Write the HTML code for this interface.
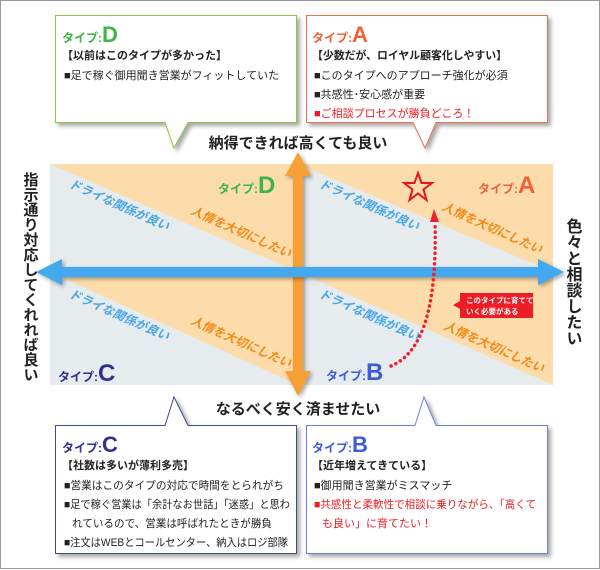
<!DOCTYPE html>
<html><head><meta charset="utf-8"><style>
html,body{margin:0;padding:0;background:#fff}
svg{display:block}
text{font-family:"Liberation Sans","Noto Sans CJK JP",sans-serif}
</style></head><body>
<svg width="600" height="570" viewBox="0 0 600 570" xmlns="http://www.w3.org/2000/svg">
<defs>
<filter id="sh" x="-10%" y="-10%" width="130%" height="130%"><feDropShadow dx="3" dy="3" stdDeviation="2" flood-color="#000" flood-opacity="0.35"/></filter>
<filter id="sh2" x="-10%" y="-30%" width="120%" height="160%"><feDropShadow dx="2" dy="2" stdDeviation="2" flood-color="#000" flood-opacity="0.35"/></filter>
</defs>
<rect x="0.5" y="0.5" width="599" height="568" fill="#fff" stroke="#999"/>

<rect x="50" y="164" width="503" height="221" fill="#e6ebee"/>
<polygon points="50,164 298,164 298,272" fill="#fcdcaa"/>
<polygon points="298,164 553,164 553,272" fill="#fcdcaa"/>
<polygon points="50,272 298,272 298,385" fill="#fcdcaa"/>
<polygon points="298,272 553,272 553,385" fill="#fcdcaa"/>

<g font-size="12" font-weight="bold" font-style="italic">
<text x="119" y="209" fill="#45a6e8" text-anchor="middle" transform="rotate(24 119 205)">ドライな関係が良い</text>
<text x="241" y="236" fill="#f08a1a" text-anchor="middle" transform="rotate(24 241 232)">人情を大切にしたい</text>
<text x="369" y="209" fill="#45a6e8" text-anchor="middle" transform="rotate(24 369 205)">ドライな関係が良い</text>
<text x="492" y="232" fill="#f08a1a" text-anchor="middle" transform="rotate(24 492 228)">人情を大切にしたい</text>
<text x="119" y="319" fill="#45a6e8" text-anchor="middle" transform="rotate(24 119 315)">ドライな関係が良い</text>
<text x="241" y="346" fill="#f08a1a" text-anchor="middle" transform="rotate(24 241 342)">人情を大切にしたい</text>
<text x="369" y="319" fill="#45a6e8" text-anchor="middle" transform="rotate(24 369 315)">ドライな関係が良い</text>
<text x="494" y="351" fill="#f08a1a" text-anchor="middle" transform="rotate(24 494 347)">人情を大切にしたい</text>
</g>

<text x="218" y="193" fill="#3cb54a" font-weight="bold"><tspan font-size="12">タイプ:</tspan><tspan font-size="24">D</tspan></text>
<text x="478" y="193" fill="#f0603a" font-weight="bold"><tspan font-size="12">タイプ:</tspan><tspan font-size="24">A</tspan></text>
<text x="58" y="381" fill="#2e3192" font-weight="bold"><tspan font-size="12">タイプ:</tspan><tspan font-size="24">C</tspan></text>
<text x="326" y="380" fill="#3d5bd9" font-weight="bold"><tspan font-size="12">タイプ:</tspan><tspan font-size="24">B</tspan></text>

<g filter="url(#sh2)">
<polygon points="298,152 311,176 303,176 303,371 311,371 298,396 285,371 293,371 293,176 285,176" fill="#f7a035"/>
</g>
<g filter="url(#sh2)">
<polygon points="36,272 62,259 62,267 538,267 538,259 564,272 538,285 538,277 62,277 62,285" fill="#42a8f0"/>
</g>

<polygon points="418,173 421.5,183 432,183 423.5,189.5 426.5,200 418,193.5 409.5,200 412.5,189.5 404,183 414.5,183" fill="none" stroke="#e8141c" stroke-width="2"/>

<path d="M391,366 C425,352 437,300 435,222" fill="none" stroke="#ee2030" stroke-width="3.5" stroke-dasharray="0.1 5.2" stroke-linecap="round"/>
<polygon points="430,222 439,222 434,209" fill="#ee2030"/>
<polygon points="460,293 533,293 533,318 460,318 460,309 453,305 460,301" fill="#ee1c24"/>
<text x="466" y="303" font-size="7.5" font-weight="bold" fill="#fff">このタイプに育てて</text>
<text x="466" y="314" font-size="7.5" font-weight="bold" fill="#fff">いく必要がある</text>

<text x="298" y="148" font-size="15" font-weight="bold" fill="#222" text-anchor="middle">納得できれば高くても良い</text>
<text x="298" y="414" font-size="15" font-weight="bold" fill="#222" text-anchor="middle">なるべく安く済ませたい</text>
<text x="30" y="172" font-size="15" font-weight="bold" fill="#222" style="writing-mode:vertical-rl" text-anchor="start">指示通り対応してくれれば良い</text>
<text x="572" y="218" font-size="16" font-weight="bold" fill="#222" style="writing-mode:vertical-rl" text-anchor="start">色々と相談したい</text>

<path d="M55.5,15.5 H296.5 V122.5 H188 L174,148 L165,122.5 H55.5 Z" fill="#fff" stroke="#8dc63f" filter="url(#sh)"/>
<text x="62" y="42" fill="#3cb54a" font-weight="bold"><tspan font-size="12">タイプ:</tspan><tspan font-size="22">D</tspan></text>
<text x="62" y="59" font-size="11" font-weight="bold" fill="#222">【以前はこのタイプが多かった】</text>
<text x="64" y="79" font-size="11" fill="#222">■足で稼ぐ御用聞き営業がフィットしていた</text>

<path d="M306.5,15.5 H547.5 V122.5 H436 L425,148 L413,122.5 H306.5 Z" fill="#fff" stroke="#f07050" filter="url(#sh)"/>
<text x="312" y="42" fill="#f0603a" font-weight="bold"><tspan font-size="12">タイプ:</tspan><tspan font-size="22">A</tspan></text>
<text x="312" y="59" font-size="11" font-weight="bold" fill="#222" textLength="195" lengthAdjust="spacingAndGlyphs">【少数だが、ロイヤル顧客化しやすい】</text>
<text x="314" y="79" font-size="11" fill="#222">■このタイプへのアプローチ強化が必須</text>
<text x="314" y="98" font-size="11" fill="#222">■共感性･安心感が重要</text>
<text x="314" y="117" font-size="11" fill="#ee1c24">■ご相談プロセスが勝負どころ！</text>

<path d="M55.5,425.5 H165 L174,397 L188,425.5 H296.5 V553.5 H55.5 Z" fill="#fff" stroke="#3d4b8f" filter="url(#sh)"/>
<text x="62" y="452" fill="#2e3192" font-weight="bold"><tspan font-size="12">タイプ:</tspan><tspan font-size="22">C</tspan></text>
<text x="62" y="469" font-size="11" font-weight="bold" fill="#222">【社数は多いが薄利多売】</text>
<text x="64" y="489" font-size="11" fill="#222" textLength="220" lengthAdjust="spacingAndGlyphs">■営業はこのタイプの対応で時間をとられがち</text>
<text x="64" y="508" font-size="11" fill="#222" textLength="226" lengthAdjust="spacingAndGlyphs">■足で稼ぐ営業は「余計なお世話」「迷惑」と思わ</text>
<text x="72" y="527" font-size="11" fill="#222" textLength="200" lengthAdjust="spacingAndGlyphs">れているので、営業は呼ばれたときが勝負</text>
<text x="64" y="546" font-size="11" fill="#222" textLength="224" lengthAdjust="spacingAndGlyphs">■注文はWEBとコールセンター、納入はロジ部隊</text>

<path d="M306.5,425.5 H415 L424,397 L436,425.5 H547.5 V553.5 H306.5 Z" fill="#fff" stroke="#6a80e8" filter="url(#sh)"/>
<text x="312" y="452" fill="#3d5bd9" font-weight="bold"><tspan font-size="12">タイプ:</tspan><tspan font-size="22">B</tspan></text>
<text x="312" y="469" font-size="11" font-weight="bold" fill="#222">【近年増えてきている】</text>
<text x="314" y="489" font-size="11" fill="#222">■御用聞き営業がミスマッチ</text>
<text x="314" y="508" font-size="11" fill="#ee1c24" textLength="222" lengthAdjust="spacingAndGlyphs">■共感性と柔軟性で相談に乗りながら、「高くて</text>
<text x="322" y="527" font-size="11" fill="#ee1c24">も良い」に育てたい！</text>
</svg>
</body></html>
